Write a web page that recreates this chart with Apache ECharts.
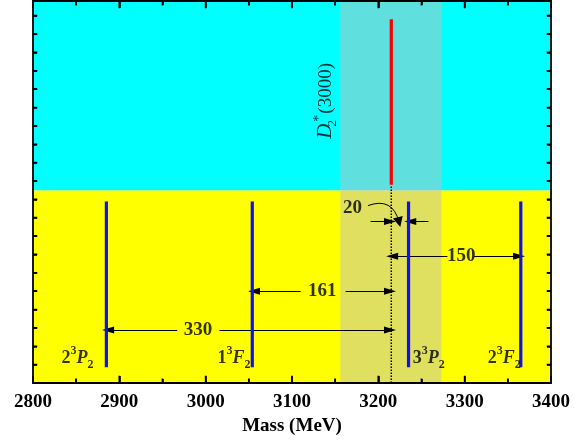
<!DOCTYPE html>
<html>
<head>
<meta charset="utf-8">
<script src="https://cdn.jsdelivr.net/npm/echarts@6/dist/echarts.min.js"></script>
<style>html,body{margin:0;padding:0;background:#fff}#c{width:586px;height:444px}</style>
</head>
<body>
<div id="c"></div>
<script>
// ---- data ----
const levelSup = ['3', '3', '3', '3'];
const levelMain = ['2', '1', '3', '2'];
const levelLetter = ['P', 'F', 'P', 'F'];
const levelMass = [2885, 3054, 3235, 3365];
const levelRange = [4.3, 49.4];
const obsMass = 3215;
const obsRange = [54, 99];
const bandRange = [3156, 3273];
const regionSplit = 52.4;
const xTicks = [2800, 2900, 3000, 3100, 3200, 3300, 3400];
const xMinorTicks = [2850, 2950, 3050, 3150, 3250, 3350];
const yTicks = [5, 10, 15, 20, 25, 30, 35, 40, 45, 50, 55, 60, 65, 70, 75, 80, 85, 90, 95, 100];
const diffText = ['330', '161', '20', '150'];
const diffX = [2991, 3135, 3170, 3296];
const diffY = [14.4, 25, 47.5, 34.5];
// arrows: [fromX, toX, y]
const arrowFromX = [2967, 3016, 3110, 3162, 3191, 3258, 3280, 3311];
const arrowToX   = [2887, 3213.5, 3056, 3213.5, 3213.5, 3237, 3216, 3363];
const arrowY     = [14.4, 14.4, 25, 25, 44, 44, 34.5, 34.5];
const curveFrom = [3188, 48.3];
const curveTo = [3224, 43.8];
// level label anchors
const labelX = [2870, 3052, 3240, 3365];
const labelY = [6.8, 6.8, 6.8, 6.8];
const labelAlign = ['right', 'right', 'left', 'right'];
const obsLabelPos = [3139, 76.8];

const X_MIN = 2800, X_MAX = 3400, Y_MIN = 0, Y_MAX = 104;
const serif = "'Liberation Serif','Times New Roman',serif";

const chart = echarts.init(document.getElementById('c'), null, {renderer: 'canvas'});

const richLevel = {
  n: {fontFamily: serif, fontSize: 18, fontWeight: 'bold', color: '#000', lineHeight: 26, verticalAlign: 'middle'},
  it: {fontFamily: serif, fontSize: 18, fontWeight: 'bold', fontStyle: 'italic', color: '#000', lineHeight: 26, verticalAlign: 'middle'},
  sup: {fontFamily: serif, fontSize: 12, fontWeight: 'bold', color: '#000', lineHeight: 12, verticalAlign: 'top'},
  sub: {fontFamily: serif, fontSize: 12, fontWeight: 'bold', color: '#000', lineHeight: 12, verticalAlign: 'bottom'}
};

const series = [];

// background regions
series.push({
  type: 'line', data: [], silent: true, z: 0,
  markArea: {
    silent: true,
    data: [
      [{yAxis: regionSplit, itemStyle: {color: '#00ffff'}}, {yAxis: Y_MAX}],
      [{yAxis: Y_MIN, itemStyle: {color: '#ffff00'}}, {yAxis: regionSplit}]
    ]
  }
});
series.push({
  type: 'line', data: [], silent: true, z: 1,
  markArea: {
    silent: true,
    itemStyle: {color: 'rgba(192,192,192,0.5)'},
    data: [[{xAxis: bandRange[0]}, {xAxis: bandRange[1]}]]
  }
});

// theoretical levels
levelMass.forEach((m) => {
  series.push({
    type: 'line', symbol: 'none', silent: true, z: 5,
    lineStyle: {color: '#1010f0', width: 3.2},
    data: [[m, levelRange[0]], [m, levelRange[1]]]
  });
});
// observed state
series.push({
  type: 'line', symbol: 'none', silent: true, z: 5,
  lineStyle: {color: '#ff0000', width: 3.2},
  data: [[obsMass, obsRange[0]], [obsMass, obsRange[1]]]
});
// dotted guide
series.push({
  type: 'line', symbol: 'none', silent: true, z: 4,
  lineStyle: {color: '#000', width: 1.5, type: [1.5, 1.5]},
  data: [[obsMass, 0], [obsMass, obsRange[0]]]
});

// straight arrows
series.push({
  type: 'line', data: [], silent: true, z: 6,
  markLine: {
    silent: true,
    animation: false,
    symbol: ['none', 'triangle'],
    symbolSize: [7, 12],
    label: {show: false},
    lineStyle: {color: '#000', width: 1, type: 'solid'},
    emphasis: {disabled: true},
    data: arrowFromX.map((fx, i) => [{coord: [fx, arrowY[i]]}, {coord: [arrowToX[i], arrowY[i]]}])
  }
});
// curved arrow
series.push({
  type: 'lines', coordinateSystem: 'cartesian2d', silent: true, z: 6,
  symbol: ['none', 'triangle'],
  symbolSize: [6, 10],
  lineStyle: {color: '#000', width: 1, opacity: 1, curveness: 0.55},
  data: [{coords: [curveFrom, curveTo]}]
});

// inward frame ticks (drawn on the axes' scales), as broken line segments
const majorLenY = 2.0, minorLenY = 1.2, lenX = 5;
const tickPts = [];
function seg(a, b) { tickPts.push(a, b, ['-', '-']); }
xTicks.slice(1, -1).forEach((v) => {
  seg([v, Y_MIN], [v, Y_MIN + majorLenY]);
  seg([v, Y_MAX], [v, Y_MAX - majorLenY]);
});
xMinorTicks.forEach((v) => {
  seg([v, Y_MIN], [v, Y_MIN + minorLenY]);
  seg([v, Y_MAX], [v, Y_MAX - minorLenY]);
});
yTicks.forEach((v) => {
  seg([X_MIN, v], [X_MIN + lenX, v]);
  seg([X_MAX, v], [X_MAX - lenX, v]);
});
series.push({
  type: 'line', symbol: 'none', silent: true, z: 10, clip: false, connectNulls: false,
  lineStyle: {color: '#000', width: 1.7},
  data: tickPts
});

// difference labels
series.push({
  type: 'scatter', symbolSize: 0, silent: true, z: 7,
  data: diffText.map((t, i) => [diffX[i], diffY[i], t]),
  label: {
    show: true, position: 'inside',
    formatter: (p) => p.data[2],
    fontFamily: serif, fontSize: 19, fontWeight: 'bold', color: '#000'
  }
});

// level labels
levelMass.forEach((m, i) => {
  series.push({
    type: 'scatter', symbolSize: 0, silent: true, z: 7,
    data: [[labelX[i], labelY[i]]],
    label: {
      show: true, position: 'inside', align: labelAlign[i], verticalAlign: 'middle',
      formatter: '{n|' + levelMain[i] + '}{sup|' + levelSup[i] + '}{it|' + levelLetter[i] + '}{sub|2}',
      rich: richLevel
    }
  });
});

// observed label (rotated)
series.push({
  type: 'scatter', symbolSize: 0, silent: true, z: 7,
  data: [obsLabelPos],
  label: {
    show: true, position: 'inside', rotate: 90,
    formatter: '{it|D}{sub|2}{sup|*}{n|(3000)}',
    rich: {
      it: {fontFamily: serif, fontSize: 21, fontStyle: 'italic', color: '#000', lineHeight: 26, verticalAlign: 'middle'},
      n: {fontFamily: serif, fontSize: 19, color: '#000', lineHeight: 26, verticalAlign: 'middle'},
      sub: {fontFamily: serif, fontSize: 13, color: '#000', lineHeight: 12, verticalAlign: 'bottom', width: 1, align: 'left', overflow: 'none'},
      sup: {fontFamily: serif, fontSize: 14, color: '#000', lineHeight: 12, verticalAlign: 'top', width: 9, align: 'left'}
    }
  }
});

const xAxisBase = {
  type: 'value', min: X_MIN, max: X_MAX, interval: 100, z: 20, zlevel: 1,
  axisLine: {show: true, onZero: false, lineStyle: {color: '#000', width: 1.8}},
  axisTick: {show: true, inside: true, length: 7, lineStyle: {color: '#000', width: 1.6}},
  minorTick: {show: true, splitNumber: 2, length: 4, lineStyle: {color: '#000', width: 1.6}},
  splitLine: {show: false}, minorSplitLine: {show: false}
};
const yAxisBase = {
  type: 'value', min: Y_MIN, max: Y_MAX, interval: 5, z: 20, zlevel: 1,
  axisLine: {show: true, onZero: false, lineStyle: {color: '#000', width: 1.8}},
  axisTick: {show: true, inside: true, length: 4, lineStyle: {color: '#000', width: 1.5}},
  axisLabel: {show: false},
  splitLine: {show: false}
};

chart.setOption({
  animation: false,
  backgroundColor: '#fff',
  grid: {left: 33, right: 35, top: 1, bottom: 61},
  xAxis: [
    Object.assign({}, xAxisBase, {
      position: 'bottom',
      name: 'Mass (MeV)', nameLocation: 'middle', nameGap: 31,
      nameTextStyle: {fontFamily: serif, fontSize: 19, fontWeight: 'bold', color: '#000'},
      axisLabel: {show: true, margin: 10, fontFamily: serif, fontSize: 19, fontWeight: 'bold', color: '#000',
        formatter: (v) => String(v)}
    }),
    Object.assign({}, xAxisBase, {position: 'top', axisLabel: {show: false}})
  ],
  yAxis: [
    Object.assign({}, yAxisBase, {position: 'left'}),
    Object.assign({}, yAxisBase, {position: 'right'})
  ],
  series: series
});
</script>
</body>
</html>
